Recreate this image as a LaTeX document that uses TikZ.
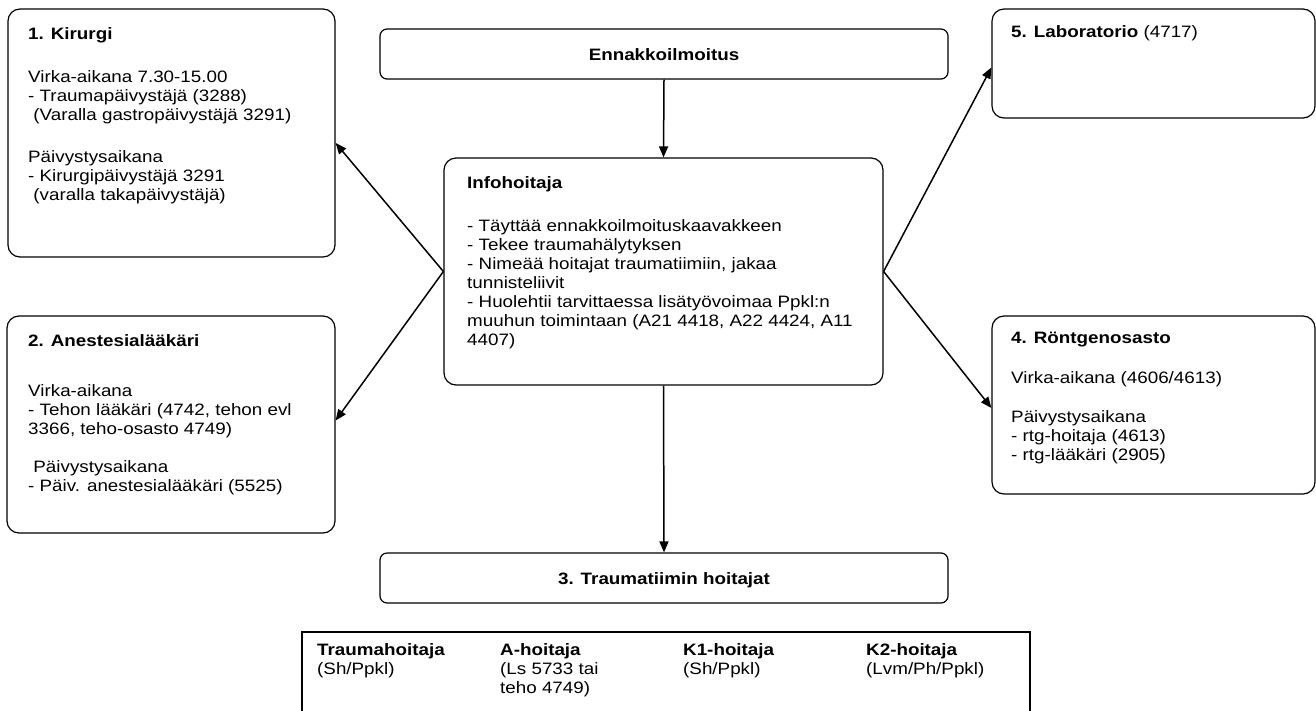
\documentclass[tikz,border=0pt]{standalone}
\usepackage{fontspec}
\setmainfont{Liberation Sans}[FakeStretch=1.14]
\usetikzlibrary{arrows.meta}
\newcommand\fst{\rule{0pt}{13.5pt}}
\begin{document}
\begin{tikzpicture}[x=1pt,y=-1pt,
  every node/.style={font=\fontsize{16.5}{19}\selectfont},
  box/.style={draw, line width=1.2pt, rounded corners=12pt, inner sep=0pt},
  bar/.style={draw, line width=1.2pt, rounded corners=7pt, inner sep=0pt,
    minimum width=568, minimum height=50, text height=12pt, text depth=0pt,
    font=\fontsize{16.5}{19}\selectfont\bfseries},
  txt/.style={anchor=north west, align=left, inner sep=0pt},
  arr/.style={line width=1.5pt, -{Triangle[length=11pt,width=9pt]}}]
\useasboundingbox (0,0) rectangle (1316,710);

% boxes
\node[box, minimum width=327, minimum height=248] (kir) at (171.5,133) {};
\node[box, minimum width=328, minimum height=217] (anest) at (171,424.5) {};
\node[bar] (ennak) at (664,54) {Ennakkoilmoitus};
\node[box, minimum width=439, minimum height=227] (info) at (663.5,271.5) {};
\node[box, minimum width=323, minimum height=109] (lab) at (1153.5,63.5) {};
\node[box, minimum width=323, minimum height=178] (rtg) at (1153.5,405) {};
\node[bar] (tiimi) at (664,578) {3. Traumatiimin hoitajat};
\node[draw, line width=1.2pt, inner sep=0pt, minimum width=728, minimum height=108] (tab) at (666,686) {};

% texts
\node[txt] (kirt) at (28,25.5) {\fst\textbf{1. Kirurgi}\\[24pt]
Virka-aikana 7.30-15.00\\
- Traumapäivystäjä (3288)\\
\ (Varalla gastropäivystäjä 3291)\\[23pt]
Päivystysaikana\\
- Kirurgipäivystäjä 3291\\
\ (varalla takapäivystäjä)};

\node[txt] (anestt) at (28,333) {\fst\textbf{2. Anestesialääkäri}\\[31pt]
Virka-aikana\\
- Tehon lääkäri (4742, tehon evl\\
3366, teho-osasto 4749)\\[19pt]
\ Päivystysaikana\\
- Päiv. anestesialääkäri (5525)};

\node[txt] (infot) at (467,174.5) {\fst\textbf{Infohoitaja}\\[24pt]
- Täyttää ennakkoilmoituskaavakkeen\\
- Tekee traumahälytyksen\\
- Nimeää hoitajat traumatiimiin, jakaa\\
tunnisteliivit\\
- Huolehtii tarvittaessa lisätyövoimaa Ppkl:n\\
muuhun toimintaan (A21 4418, A22 4424, A11\\
4407)};

\node[txt] (labt) at (1011,23.5) {\fst\textbf{5. Laboratorio} (4717)};

\node[txt] (rtgt) at (1011,329.5) {\fst\textbf{4. Röntgenosasto}\\[21pt]
Virka-aikana (4606/4613)\\[20pt]
Päivystysaikana\\
- rtg-hoitaja (4613)\\
- rtg-lääkäri (2905)};

\node[txt] (c1) at (317,641.5) {\fst\textbf{Traumahoitaja}\\(Sh/Ppkl)};
\node[txt] (c2) at (500,641.5) {\fst\textbf{A-hoitaja}\\(Ls 5733 tai\\teho 4749)};
\node[txt] (c3) at (683,641.5) {\fst\textbf{K1-hoitaja}\\(Sh/Ppkl)};
\node[txt] (c4) at (866,641.5) {\fst\textbf{K2-hoitaja}\\(Lvm/Ph/Ppkl)};

% connectors
\draw[arr] (ennak.south) -- (info.north);
\draw[arr] (info.south) -- (tiimi.north);
\draw[arr] (info.west) -- ([yshift=-10pt]kir.east);
\draw[arr] (info.west) -- ([yshift=4pt]anest.east);
\draw[arr] (info.east) -- ([yshift=-4pt]lab.west);
\draw[arr] (info.east) -- ([yshift=-3pt]rtg.west);
\end{tikzpicture}
\end{document}
